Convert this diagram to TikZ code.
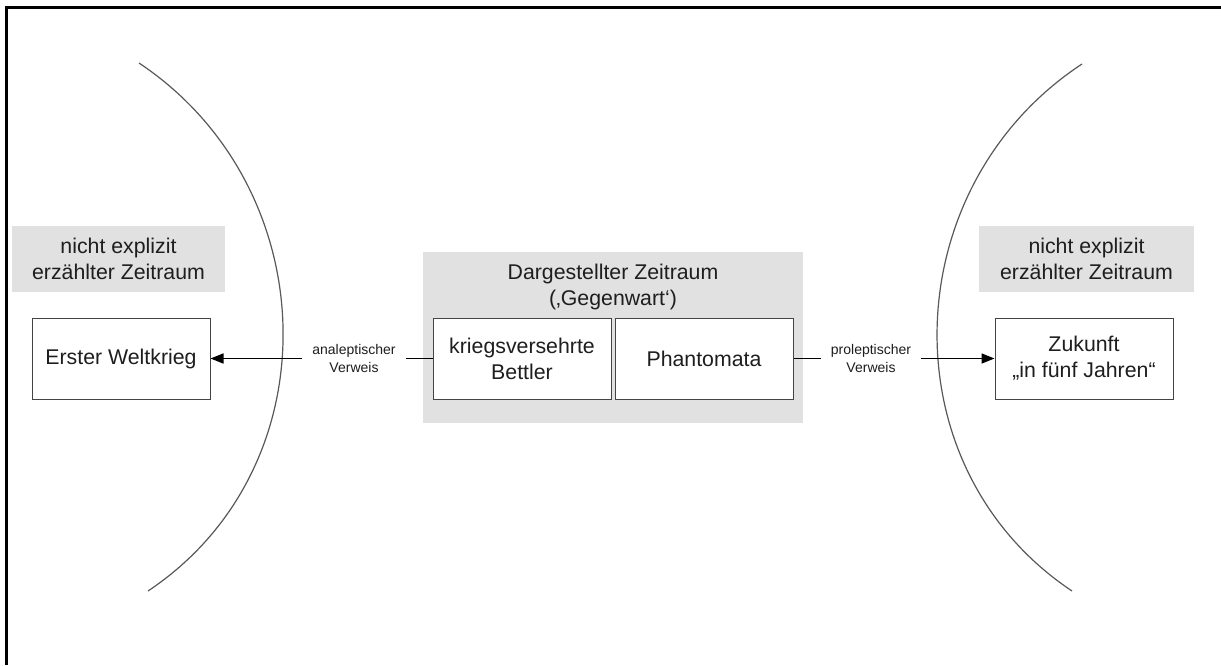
\documentclass[tikz,border=0pt]{standalone}
\usepackage{fontspec}
\setmainfont{Liberation Sans}
\usetikzlibrary{arrows.meta}
\definecolor{boxgray}{HTML}{E1E1E1}
\definecolor{edgegray}{HTML}{444444}
\definecolor{txt}{HTML}{1E1E1E}
\begin{document}
\begin{tikzpicture}[x=1pt,y=-1pt,
  bigtext/.style={font=\fontsize{21.3}{26}\selectfont, text=txt, align=center},
  graybox/.style={bigtext, fill=boxgray, draw=none, inner sep=0pt},
  whitebox/.style={bigtext, fill=white, draw=edgegray, line width=1pt, minimum width=178pt, minimum height=81pt, inner sep=0pt},
  reflabel/.style={font=\fontsize{14}{18}\selectfont, text=txt, align=center, inner xsep=10pt, inner ysep=0pt},
  conn/.style={line width=1.6pt, draw=black},
  tip/.style={-{Triangle[length=13pt,width=10pt]}},
  arc/.style={line width=1.2pt, draw=black!65}
]
\useasboundingbox (0,0) rectangle (1221,665);
\fill[white] (0,0) rectangle (1221,665);
% frame (top and left only)
\draw[line width=3pt, black] (1221,7) -- (6,7) -- (6,665);

% arcs
\draw[arc] (139,63) .. controls (325,187) and (334,467) .. (148,591);
\draw[arc] (1082,64) .. controls (895,187) and (886,467) .. (1072,591);

% gray boxes
\node[graybox, minimum width=213pt, minimum height=66pt] (lgray) at (118.5,259) {nicht explizit\\erzählter Zeitraum};
\node[graybox, minimum width=215pt, minimum height=66pt] (rgray) at (1086.5,259) {nicht explizit\\erzählter Zeitraum};
\node[graybox, minimum width=380pt, minimum height=171pt] (cgray) at (613,337.5) {};
\node[bigtext, inner sep=0pt] (ctitle) at (613,287) {Dargestellter Zeitraum\\(‚Gegenwart‘)};

% white boxes
\node[whitebox] (ewk) at (121,358.5) {Erster Weltkrieg};
\node[whitebox] (kb) at (522,358.5) {kriegsversehrte\\Bettler};
\node[whitebox] (ph) at (704,358.5) {Phantomata};
\node[whitebox] (zk) at (1084,358.5) {Zukunft\\„in fünf Jahren“};

% labels
\node[reflabel] (ana) at (354,358) {analeptischer\\Verweis};
\node[reflabel] (pro) at (871,358) {proleptischer\\Verweis};

% connectors
\draw[conn] (kb.west) -- (kb.west -| ana.east);
\draw[conn, tip] (ewk.east -| ana.west) -- (ewk.east);
\draw[conn] (ph.east) -- (ph.east -| pro.west);
\draw[conn, tip] (zk.west -| pro.east) -- (zk.west);
\end{tikzpicture}
\end{document}
